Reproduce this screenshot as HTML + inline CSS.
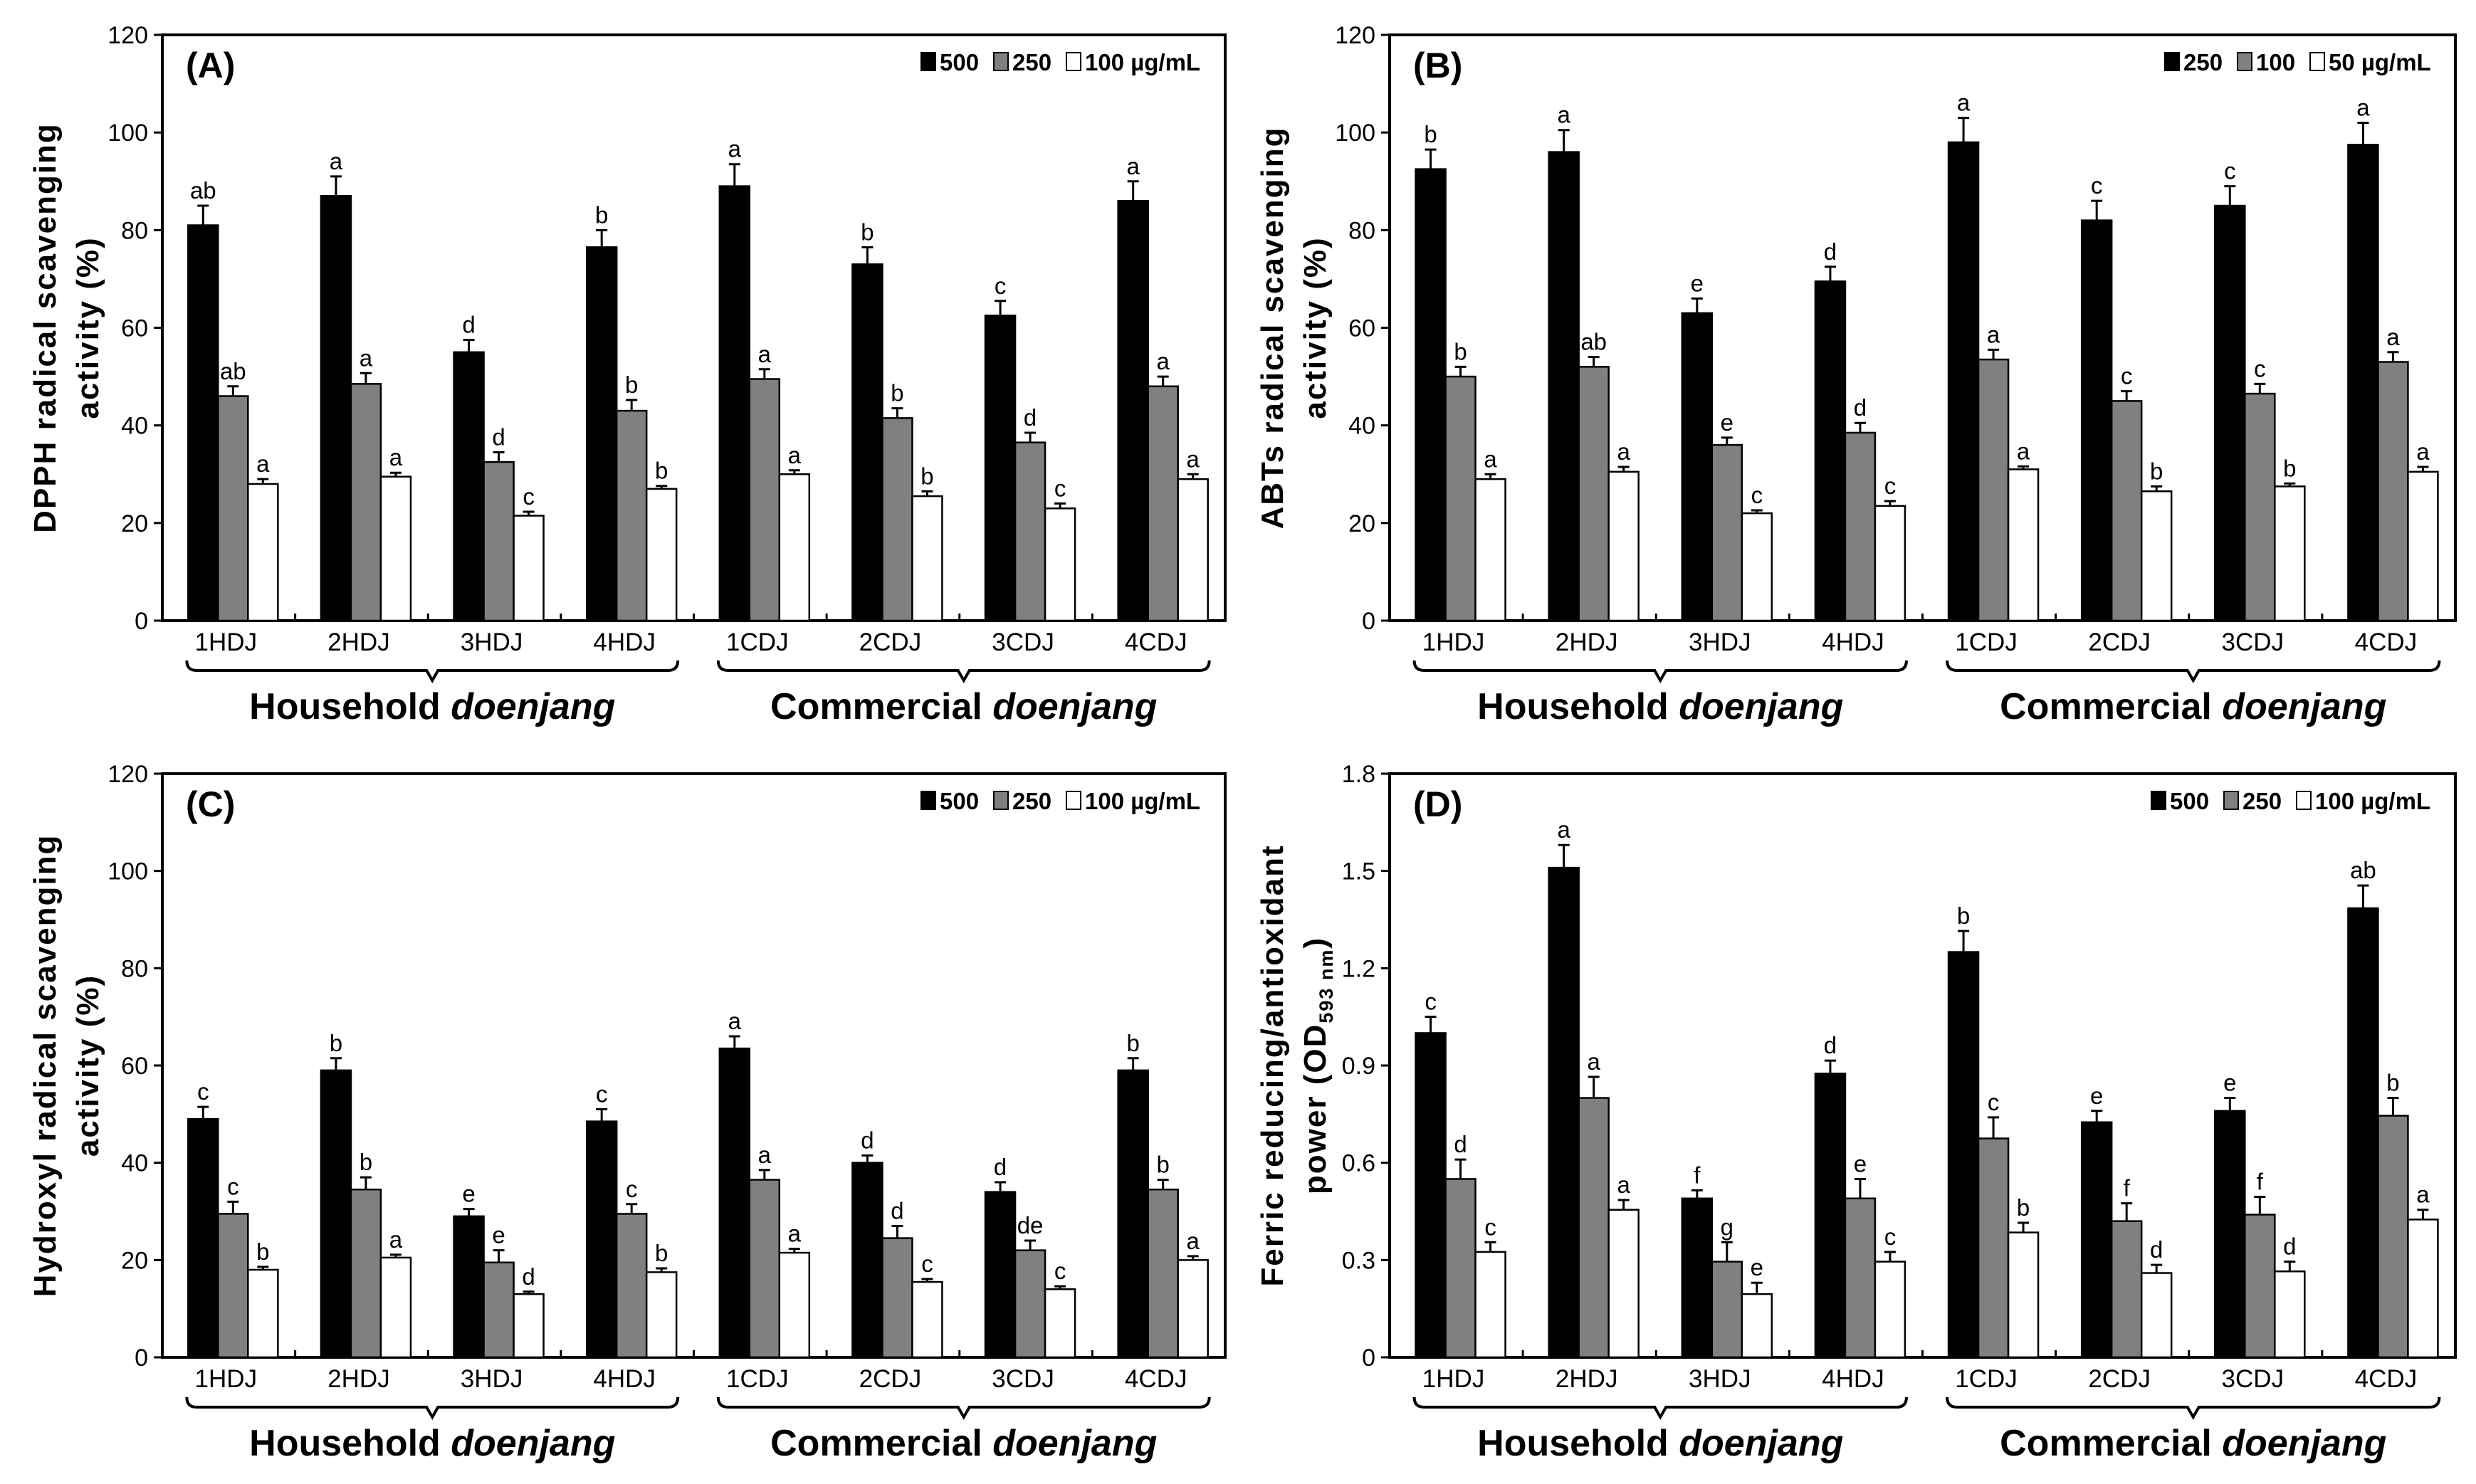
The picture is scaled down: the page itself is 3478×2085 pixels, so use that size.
<!DOCTYPE html>
<html><head><meta charset="utf-8">
<style>
html,body{margin:0;padding:0;background:#fff;}
svg{display:block;font-family:"Liberation Sans","DejaVu Sans",sans-serif;}
</style></head>
<body>
<svg id="fig" width="3478" height="2085" viewBox="0 0 3478 2085" xmlns="http://www.w3.org/2000/svg"></svg>
<script>
const categories = ["1HDJ","2HDJ","3HDJ","4HDJ","1CDJ","2CDJ","3CDJ","4CDJ"];
const groupLabels = ["Household","Commercial"];

const aHigh = [81,87,55,76.5,89,73,62.5,86];
const aHighErr = [4,4,2.5,3.5,4.5,3.5,3,4];
const aMid = [46,48.5,32.5,43,49.5,41.5,36.5,48];
const aMidErr = [2,2.2,2,2.2,2,2,2,2];
const aLow = [28,29.5,21.5,27,30,25.5,23,29];
const aLowErr = [1,0.8,0.8,0.6,0.8,1,1,1];
const aLetHigh = ["ab","a","d","b","a","b","c","a"];
const aLetMid = ["ab","a","d","b","a","b","d","a"];
const aLetLow = ["a","a","c","b","a","b","c","a"];

const bHigh = [92.5,96,63,69.5,98,82,85,97.5];
const bHighErr = [4,4.5,3,3,5,4,4,4.5];
const bMid = [50,52,36,38.5,53.5,45,46.5,53];
const bMidErr = [2,2,1.5,2,2,2,2,2];
const bLow = [29,30.5,22,23.5,31,26.5,27.5,30.5];
const bLowErr = [1,1,0.6,1,0.6,1,0.6,1];
const bLetHigh = ["b","a","e","d","a","c","c","a"];
const bLetMid = ["b","ab","e","d","a","c","c","a"];
const bLetLow = ["a","a","c","c","a","b","b","a"];

const cHigh = [49,59,29,48.5,63.5,40,34,59];
const cHighErr = [2.5,2.5,1.5,2.5,2.5,1.5,2,2.5];
const cMid = [29.5,34.5,19.5,29.5,36.5,24.5,22,34.5];
const cMidErr = [2.5,2.5,2.5,2,2,2.5,2,2];
const cLow = [18,20.5,13,17.5,21.5,15.5,14,20];
const cLowErr = [0.6,0.6,0.5,0.8,0.8,0.6,0.6,0.8];
const cLetHigh = ["c","b","e","c","a","d","d","b"];
const cLetMid = ["c","b","e","c","a","d","de","b"];
const cLetLow = ["b","a","d","b","a","c","c","a"];

const dHigh = [1.0,1.51,0.49,0.875,1.25,0.725,0.76,1.385];
const dHighErr = [0.05,0.07,0.025,0.04,0.065,0.035,0.04,0.07];
const dMid = [0.55,0.80,0.295,0.49,0.675,0.42,0.44,0.745];
const dMidErr = [0.06,0.065,0.06,0.06,0.065,0.055,0.055,0.055];
const dLow = [0.325,0.455,0.195,0.295,0.385,0.26,0.265,0.425];
const dLowErr = [0.03,0.03,0.035,0.03,0.03,0.025,0.03,0.03];
const dLetHigh = ["c","a","f","d","b","e","e","ab"];
const dLetMid = ["d","a","g","e","c","f","f","b"];
const dLetLow = ["c","a","e","c","b","d","d","a"];

const yTicksPct = ["0","20","40","60","80","100","120"];
const yTicksD = ["0","0.3","0.6","0.9","1.2","1.5","1.8"];

const NS = "http://www.w3.org/2000/svg";
const svg = document.getElementById("fig");
function mk(tag, attrs, parent){
  const e = document.createElementNS(NS, tag);
  for (const k in attrs) e.setAttribute(k, attrs[k]);
  (parent||svg).appendChild(e);
  return e;
}

const panels = [
  {id:"a", label:"(A)", L:228, R:1721, T:49, B:872, max:120, ticks:yTicksPct,
   series:[[aHigh,aHighErr,aLetHigh],[aMid,aMidErr,aLetMid],[aLow,aLowErr,aLetLow]],
   legend:["500","250","100 µg/mL"], title:["DPPH radical scavenging","activity (%)"]},
  {id:"b", label:"(B)", L:1952, R:3449, T:49, B:872, max:120, ticks:yTicksPct,
   series:[[bHigh,bHighErr,bLetHigh],[bMid,bMidErr,bLetMid],[bLow,bLowErr,bLetLow]],
   legend:["250","100","50 µg/mL"], title:["ABTs radical scavenging","activity (%)"]},
  {id:"c", label:"(C)", L:228, R:1721, T:1087, B:1907, max:120, ticks:yTicksPct,
   series:[[cHigh,cHighErr,cLetHigh],[cMid,cMidErr,cLetMid],[cLow,cLowErr,cLetLow]],
   legend:["500","250","100 µg/mL"], title:["Hydroxyl radical scavenging","activity (%)"]},
  {id:"d", label:"(D)", L:1952, R:3449, T:1087, B:1907, max:1.8, ticks:yTicksD,
   series:[[dHigh,dHighErr,dLetHigh],[dMid,dMidErr,dLetMid],[dLow,dLowErr,dLetLow]],
   legend:["500","250","100 µg/mL"], title:["Ferric reducing/antioxidant","power (OD"]},
];
const fills = ["#000","#808080","#fff"];
const seriesNames = ["high","mid","low"];

panels.forEach(p => {
  const g = mk("g", {});
  
  
  const y = v => p.B - v / p.max * (p.B - p.T);
  const cw = (p.R - p.L) / categories.length;
  const bw = 42;
  const cx = i => p.L + cw * (i + 0.5) + 6;

  const fr = mk("rect", {x:p.L, y:p.T, width:p.R-p.L, height:p.B-p.T, fill:"none", stroke:"#000", "stroke-width":4}, g);
  
  

  p.ticks.forEach((t, k) => {
    const v = k * p.max / (p.ticks.length - 1);
    const yy = y(v);
    mk("line", {x1:p.L-12, x2:p.L, y1:yy, y2:yy, stroke:"#000", "stroke-width":3}, g);
    const tx = mk("text", {x:p.L-20, y:yy+12, "text-anchor":"end", "font-size":34, fill:"#000"}, g);
    tx.textContent = t;
    
    
  });
  for (let i = 1; i < categories.length; i++) {
    const xx = p.L + cw * i;
    mk("line", {x1:xx, x2:xx, y1:p.B, y2:p.B-10, stroke:"#000", "stroke-width":3}, g);
  }

  p.series.forEach((s, si) => {
    const [vals, errs, lets] = s;
    vals.forEach((v, i) => {
      const x0 = cx(i) - 1.5 * bw + si * bw;
      const r = mk("rect", {x:x0, y:y(v), width:bw, height:p.B - y(v), fill:fills[si], stroke:"#000", "stroke-width":2.5}, g);
      
      
      const xm = x0 + bw / 2, yt = y(v + errs[i]);
      mk("line", {x1:xm, x2:xm, y1:y(v), y2:yt, stroke:"#000", "stroke-width":3}, g);
      mk("line", {x1:xm-8, x2:xm+8, y1:yt, y2:yt, stroke:"#000", "stroke-width":3}, g);
      const lt = mk("text", {x:xm, y:yt-10, "text-anchor":"middle", "font-size":33, fill:"#000"}, g);
      lt.textContent = lets[i];
      
      
    });
  });

  categories.forEach((c, i) => {
    const t = mk("text", {x:cx(i)-10, y:p.B+42, "text-anchor":"middle", "font-size":35, fill:"#000"}, g);
    t.textContent = c;
    
    
  });

  [[0,3],[4,7]].forEach((rng, gi) => {
    const x1 = cx(rng[0]) - 65, x2 = cx(rng[1]) + 65, ym = p.B + 70;
    const mid = (x1 + x2) / 2;
    const br = mk("path", {d:`M${x1},${ym-14} Q${x1},${ym} ${x1+14},${ym} L${mid-8},${ym} L${mid},${ym+14} L${mid+8},${ym} L${x2-14},${ym} Q${x2},${ym} ${x2},${ym-14}`, fill:"none", stroke:"#000", "stroke-width":4}, g);
    
    
    const gt = mk("text", {x:mid, y:p.B+138, "text-anchor":"middle", "font-size":52, "font-weight":"bold", fill:"#000"}, g);
    
    
    gt.textContent = groupLabels[gi] + " ";
    const it = mk("tspan", {"font-style":"italic"}, gt);
    it.textContent = "doenjang";
  });

  const pl = mk("text", {x:p.L+33, y:p.T+60, "font-size":50, "font-weight":"bold", fill:"#000"}, g);
  pl.textContent = p.label;
  
  

  const lg = mk("g", {}, g);
  
  
  const ly = p.T + 50;
  const widths = [p.legend[0].length*20+42, p.legend[1].length*20+42];
  const lw = p.legend[2].length * 19 + 34;
  let x = p.R - 18 - lw - widths[0] - widths[1];
  p.legend.forEach((txt, si) => {
    const sw = mk("rect", {x:x, y:ly-25, width:20, height:25, fill:fills[si], stroke:"#000", "stroke-width":2}, lg);
    
    
    const lt = mk("text", {x:x+26, y:ly, "font-size":33, "font-weight":"bold", fill:"#000"}, lg);
    lt.textContent = txt;
    
    
    x += si < 2 ? widths[si] : 0;
  });

  const cy = (p.T + p.B) / 2;
  const tx1 = p.L - 150, tx2 = p.L - 90;
  const t1 = mk("text", {x:tx1, y:cy, transform:`rotate(-90 ${tx1} ${cy})`, "text-anchor":"middle", "font-size":44, "font-weight":"bold", "letter-spacing":"2", fill:"#000"}, g);
  t1.textContent = p.title[0];
  
  
  const t2 = mk("text", {x:tx2, y:cy, transform:`rotate(-90 ${tx2} ${cy})`, "text-anchor":"middle", "font-size":44, "font-weight":"bold", "letter-spacing":"2", fill:"#000"}, g);
  
  
  t2.textContent = p.title[1];
  if (p.id === "d") {
    const sub = mk("tspan", {"font-size":27, dy:10}, t2);
    sub.textContent = "593 nm";
    const cl = mk("tspan", {dy:-10}, t2);
    cl.textContent = ")";
  }
});
</script>
</body></html>
